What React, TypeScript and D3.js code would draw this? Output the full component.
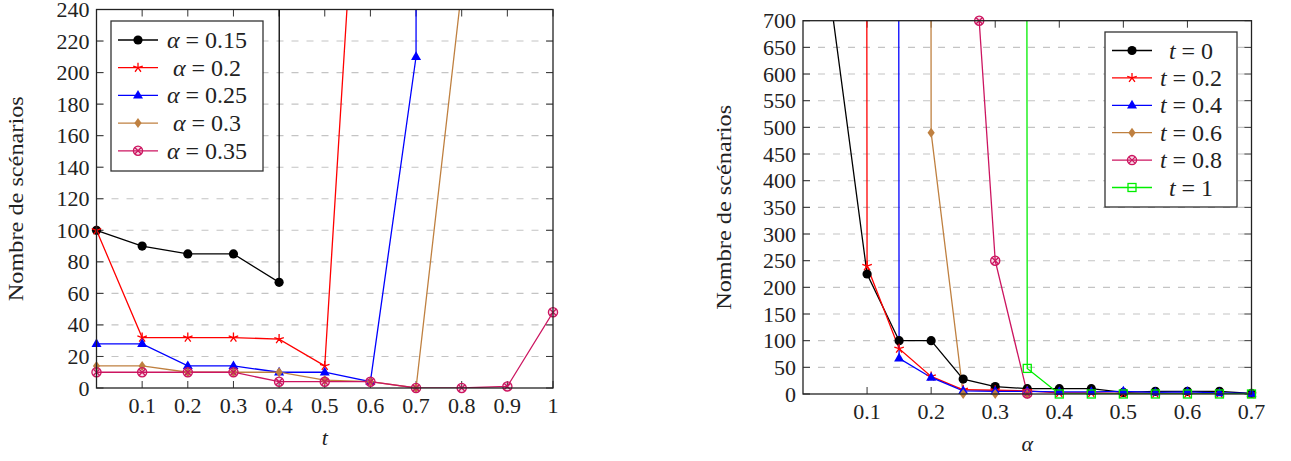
import React from 'react';
import * as d3 from 'd3';

// ---- left chart: scenarios vs t, one series per alpha ----
const tValues = [0, 0.1, 0.2, 0.3, 0.4, 0.5, 0.6, 0.7, 0.8, 0.9, 1];
const alpha015 = [100, 90, 85, 85, 67, 60000];
const alpha02 = [100, 32, 32, 32, 31, 14, 479];
const alpha025 = [28, 28, 14, 14, 10, 10, 4, 210, 60000];
const alpha03 = [14, 14, 10, 10, 10, 5, 4, 0, 253];
const alpha035 = [10, 10, 10, 10, 4, 4, 4, 0, 0, 1, 48];
const leftLabels = ['0.15', '0.2', '0.25', '0.3', '0.35'];
const leftXTicks = [0.1, 0.2, 0.3, 0.4, 0.5, 0.6, 0.7, 0.8, 0.9, 1];
const leftYTicks = d3.range(0, 241, 20);

// ---- right chart: scenarios vs alpha, one series per t ----
const alphaGrid = [0, 0.05, 0.1, 0.15, 0.2, 0.25, 0.3, 0.35, 0.4, 0.45, 0.5, 0.55, 0.6, 0.65, 0.7];
const t0 = [1130, null, 225, 100, 100, 28, 14, 10, 10, 10, 3, 5, 5, 5, 1];
const t02 = [null, 60000, 240, 85, 33, 8, 7, 6, 2, 2, 1, 1, 1, 1, 0];
const t04 = [null, null, 60000, 67, 31, 6, 5, 5, 4, 4, 5, 3, 4, 2, 1];
const t06 = [null, null, null, 60000, 490, 0, 0, 0, null, null, null, null, null, null, null];
const t08Alpha = [0.275, 0.3, 0.35];
const t08 = [700, 250, 1];
const t1 = [null, null, null, null, null, null, 60000, 48, 0, 0, 0, 0, 0, 0, 0];
const rightLabels = ['0', '0.2', '0.4', '0.6', '0.8', '1'];
const rightXTicks = [0.1, 0.2, 0.3, 0.4, 0.5, 0.6, 0.7];
const rightYTicks = d3.range(0, 701, 50);

const FONT = 'Liberation Serif, DejaVu Serif, Times New Roman, serif';
const BROWN = '#bf8040';
const PURPLE = '#cc1560';

type Mark = 'circle' | 'star' | 'triangle' | 'diamond' | 'otimes' | 'square';
interface Series { xs: number[]; ys: (number | null)[]; color: string; mark: Mark; label: string; }

const zip = (xs: number[], ys: (number | null)[]) =>
  xs.map((x, i) => [x, ys[i]] as [number, number | null]).filter(d => d[1] !== null && d[1] !== undefined) as [number, number][];

function Marker({ type, color, x, y }: { type: Mark; color: string; x: number; y: number }) {
  if (type === 'circle') return <circle cx={x} cy={y} r={4.6} fill={color} />;
  if (type === 'triangle') return <path transform={`translate(${x},${y})`} d="M0,-5.5L5,3.2L-5,3.2Z" fill={color} />;
  if (type === 'diamond') return <path transform={`translate(${x},${y})`} d="M0,-5L3.6,0L0,5L-3.6,0Z" fill={color} />;
  if (type === 'square') return <rect x={x - 4} y={y - 4} width={8} height={8} fill="none" stroke={color} strokeWidth={1.3} />;
  if (type === 'otimes') return (
    <g transform={`translate(${x},${y})`} stroke={color} strokeWidth={1.3}>
      <circle r={4.6} fill="rgba(204,21,96,0.15)" />
      <path d="M-3,-3L3,3M-3,3L3,-3" />
    </g>
  );
  // star: five spokes
  const spokes = d3.range(5).map(i => {
    const a = -Math.PI / 2 + i * 2 * Math.PI / 5;
    return `M0,0L${(5 * Math.cos(a)).toFixed(2)},${(5 * Math.sin(a)).toFixed(2)}`;
  }).join('');
  return <path transform={`translate(${x},${y})`} d={spokes} stroke={color} strokeWidth={1.3} fill="none" />;
}

interface PlotProps {
  left: number; right: number; top: number; bottom: number;
  xDomain: [number, number]; yDomain: [number, number];
  xTicks: number[]; yTicks: number[];
  series: Series[]; xLabel: string; labelPrefix: string;
  yLabelX: number;
  legend: { x: number; y: number; w: number; h: number; row0: number; step: number; textX: number };
  id: string;
}

function Plot(p: PlotProps) {
  const x = d3.scaleLinear().domain(p.xDomain).range([p.left, p.right]);
  const y = d3.scaleLinear().domain(p.yDomain).range([p.bottom, p.top]);
  const line = d3.line<[number, number]>().x(d => x(d[0])).y(d => y(d[1]));
  const tl = 7;
  const fmt = (v: number) => (v === 1 ? '1' : String(v));
  return (
    <g>
      <defs>
        <clipPath id={p.id}>
          <rect x={p.left} y={p.top} width={p.right - p.left} height={p.bottom - p.top} />
        </clipPath>
      </defs>
      {/* grid */}
      {p.yTicks.filter(v => v > p.yDomain[0] && v < p.yDomain[1]).map(v => (
        <line key={'g' + v} x1={p.left} x2={p.right} y1={y(v)} y2={y(v)} stroke="#c4c4c4" strokeWidth={1.1} strokeDasharray="7 8" />
      ))}
      {/* ticks */}
      <g stroke="#333" strokeWidth={1}>
        {p.yTicks.map(v => (
          <g key={'yt' + v}>
            <line x1={p.left} x2={p.left + tl} y1={y(v)} y2={y(v)} />
            <line x1={p.right} x2={p.right - tl} y1={y(v)} y2={y(v)} />
          </g>
        ))}
        {p.xTicks.map(v => (
          <g key={'xt' + v}>
            <line x1={x(v)} x2={x(v)} y1={p.bottom} y2={p.bottom - tl} />
            <line x1={x(v)} x2={x(v)} y1={p.top} y2={p.top + tl} />
          </g>
        ))}
      </g>
      {/* series */}
      <g clipPath={`url(#${p.id})`}>
        {p.series.map((s, i) => (
          <path key={'l' + i} d={line(zip(s.xs, s.ys)) || ''} fill="none" stroke={s.color} strokeWidth={1.3} />
        ))}
      </g>
      {p.series.map((s, i) => (
        <g key={'m' + i}>
          {zip(s.xs, s.ys).map(([a, b], j) => (
            <Marker key={j} type={s.mark} color={s.color} x={x(a)} y={y(b)} />
          ))}
        </g>
      ))}
      {/* frame */}
      <rect x={p.left} y={p.top} width={p.right - p.left} height={p.bottom - p.top} fill="none" stroke="#222" strokeWidth={1.3} />
      {/* tick labels */}
      <g fontFamily={FONT} fontSize={22} fill="#222">
        {p.yTicks.map(v => (
          <text key={'yl' + v} x={p.left - 7} y={y(v) + 7.5} textAnchor="end">{v}</text>
        ))}
        {p.xTicks.map(v => (
          <text key={'xl' + v} x={x(v)} y={p.bottom + 25} textAnchor="middle">{fmt(v)}</text>
        ))}
        <text x={(p.left + p.right) / 2} y={p.bottom + 57} textAnchor="middle" fontStyle="italic">{p.xLabel}</text>
        <text transform={`translate(${p.yLabelX},${(p.top + p.bottom) / 2}) rotate(-90)`} textAnchor="middle"
          textLength={205} lengthAdjust="spacingAndGlyphs">Nombre de scénarios</text>
      </g>
      {/* legend */}
      <g>
        <rect x={p.legend.x} y={p.legend.y} width={p.legend.w} height={p.legend.h} fill="white" stroke="#333" strokeWidth={1.3} />
        {p.series.map((s, i) => {
          const ry = p.legend.y + p.legend.row0 + i * p.legend.step;
          const lx = p.legend.x + 7;
          return (
            <g key={'lg' + i}>
              <line x1={lx} x2={lx + 40} y1={ry} y2={ry} stroke={s.color} strokeWidth={1.3} />
              <Marker type={s.mark} color={s.color} x={lx + 20} y={ry} />
              <text x={p.legend.x + p.legend.textX} y={ry + 8} textAnchor="middle" fontFamily={FONT} fontSize={24} fill="#222">
                <tspan fontStyle="italic">{p.labelPrefix}</tspan> = {s.label}
              </text>
            </g>
          );
        })}
      </g>
    </g>
  );
}

export default function App() {
  const leftSeries: Series[] = [
    { xs: tValues, ys: alpha015, color: '#000000', mark: 'circle', label: leftLabels[0] },
    { xs: tValues, ys: alpha02, color: '#ff0000', mark: 'star', label: leftLabels[1] },
    { xs: tValues, ys: alpha025, color: '#0000ff', mark: 'triangle', label: leftLabels[2] },
    { xs: tValues, ys: alpha03, color: BROWN, mark: 'diamond', label: leftLabels[3] },
    { xs: tValues, ys: alpha035, color: PURPLE, mark: 'otimes', label: leftLabels[4] },
  ];
  const rightSeries: Series[] = [
    { xs: alphaGrid, ys: t0, color: '#000000', mark: 'circle', label: rightLabels[0] },
    { xs: alphaGrid, ys: t02, color: '#ff0000', mark: 'star', label: rightLabels[1] },
    { xs: alphaGrid, ys: t04, color: '#0000ff', mark: 'triangle', label: rightLabels[2] },
    { xs: alphaGrid, ys: t06, color: BROWN, mark: 'diamond', label: rightLabels[3] },
    { xs: t08Alpha, ys: t08, color: PURPLE, mark: 'otimes', label: rightLabels[4] },
    { xs: alphaGrid, ys: t1, color: '#00ee00', mark: 'square', label: rightLabels[5] },
  ];
  return (
    <svg width={1291} height={461} style={{ position: 'absolute', left: 0, top: 0, background: 'white' }}>
      <Plot id="clipL" left={96.5} right={553} top={9.5} bottom={388}
        xDomain={[0, 1]} yDomain={[0, 240]} xTicks={leftXTicks} yTicks={leftYTicks}
        series={leftSeries} xLabel="t" labelPrefix="α" yLabelX={23}
        legend={{ x: 111, y: 21, w: 152, h: 150, row0: 19, step: 27.7, textX: 96 }} />
      <Plot id="clipR" left={803} right={1251.5} top={20.7} bottom={394}
        xDomain={[0, 0.7]} yDomain={[0, 700]} xTicks={rightXTicks} yTicks={rightYTicks}
        series={rightSeries} xLabel="α" labelPrefix="t" yLabelX={731}
        legend={{ x: 1105, y: 32, w: 132, h: 175, row0: 18.5, step: 27.4, textX: 86 }} />
    </svg>
  );
}
